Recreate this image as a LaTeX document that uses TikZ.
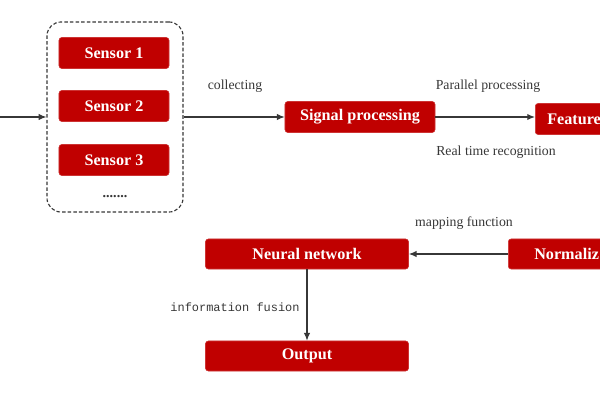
\documentclass[tikz,border=0pt]{standalone}
\usepackage{fontspec}
\setmainfont{Liberation Serif}
\newfontfamily\labelmono{Liberation Mono}
\usetikzlibrary{arrows.meta}
\definecolor{boxred}{RGB}{192,0,0}
\definecolor{linegray}{RGB}{55,55,55}
\tikzset{
  redbox/.style={fill=boxred, draw=boxred!80, rounded corners=2pt, text=white,
    font=\fontsize{11.5}{13}\selectfont\bfseries, inner sep=0pt},
  flow/.style={draw=linegray, line width=0.8pt, -{Latex[length=5.5pt,width=4.5pt]}},
  note/.style={text=linegray, font=\fontsize{9.8}{11}\selectfont}
}
\begin{document}
\begin{tikzpicture}[x=0.025cm, y=-0.025cm]
      \useasboundingbox (0,0) rectangle (600,400);
      \draw
        (0,117) coordinate (in)
        (115,117) node[draw=linegray, dashed, dash pattern=on 2.5pt off 1.5pt, line width=0.8pt,
          rounded corners=0.35cm, minimum width=3.4cm, minimum height=4.75cm] (group){}
        (114,53) node[redbox, minimum width=2.75cm, minimum height=0.775cm] (s1){Sensor 1}
        (114,106) node[redbox, minimum width=2.75cm, minimum height=0.775cm] (s2){Sensor 2}
        (114,160) node[redbox, minimum width=2.75cm, minimum height=0.775cm] (s3){Sensor 3}
        (115,198) node[anchor=base, text=linegray, font=\fontsize{10}{11}\selectfont\bfseries] (dots){.......}
        (360,117) node[redbox, minimum width=3.75cm, minimum height=0.775cm] (sig){Signal processing}
        (535,119) node[redbox, anchor=west, minimum height=0.775cm, inner xsep=0.3cm,
          text width=2.5cm, align=left] (feat){Feature}
        (307,254) node[redbox, minimum width=5.075cm, minimum height=0.75cm] (nn){Neural network}
        (508,254) node[redbox, anchor=west, minimum height=0.75cm, inner xsep=0.65cm,
          text width=2.5cm, align=left] (norm){Normaliz}
        (307,356) node[redbox, minimum width=5.075cm, minimum height=0.75cm] (out){Output};
      \draw
        (235,86) node[note] (collect){collecting}
        (488,86) node[note] (parallel){Parallel processing}
        (496,152) node[note] (realtime){Real time recognition}
        (464,223) node[note] (mapping){mapping function}
        (235,307) node[text=linegray, font=\labelmono\fontsize{8.5}{10}\selectfont] (fusion){information fusion};
      \begin{scope}[flow]
        \draw (in) to (group);
        \draw (group) to (sig);
        \draw (sig) to (sig -| feat.west);
        \draw (norm) to (nn);
        \draw (nn) to (out);
      \end{scope}
    \end{tikzpicture}
\end{document}
